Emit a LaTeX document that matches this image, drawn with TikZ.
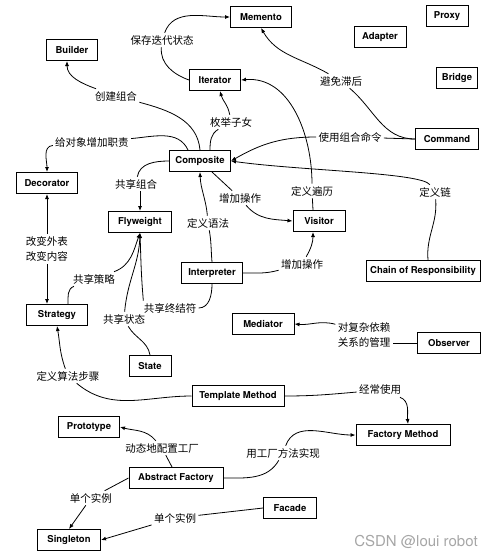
\documentclass[tikz,border=0pt]{standalone}
\usepackage{fontspec}
\setsansfont{TeX Gyre Heros}
\newfontfamily\cjkfont{Noto Sans CJK SC}
\usepackage{tikz}
\usetikzlibrary{arrows.meta}

\begin{document}
\begin{tikzpicture}[
				x=1pt, y=1pt,
				line width=0.8pt,
				>={Latex[length=5pt,width=4pt]},
				class node/.style={draw,line width=1pt,inner xsep=3pt,minimum height=21pt,minimum width=#1,font=\sffamily\bfseries\fontsize{9.5}{11}\selectfont},
				class node/.default=62pt,
				note/.style={inner sep=2pt,align=center,font=\cjkfont\fontsize{10.5}{15}\selectfont}
				]
				\useasboundingbox (0,0) rectangle (495,-558);
				\node[class node=51pt] (builder) at (72,-50) {Builder};
				\node[class node=61pt] (memento) at (261,-17) {Memento};
				\node[class node=42pt] (proxy) at (447,-16) {Proxy};
				\node[class node=52pt] (adapter) at (380,-37) {Adapter};
				\node[class node=41pt] (bridge) at (457,-78) {Bridge};
				\node[class node=51pt] (iterator) at (215,-80) {Iterator};
				\node[class node=63pt] (command) at (447,-139) {Command};
				\node[class node=61pt] (composite) at (200,-161) {Composite};
				\node[class node=61pt] (decorator) at (47,-183) {Decorator};
				\node[class node=63pt] (flyweight) at (140,-222) {Flyweight};
				\node[class node=52pt] (visitor) at (319,-221) {Visitor};
				\node[class node=61pt] (interpreter) at (212,-273) {Interpreter};
				\node[class node=114pt] (chain) at (423,-271) {Chain of Responsibility};
				\node[class node=61pt] (strategy) at (57,-315) {Strategy};
				\node[class node=62pt] (mediator) at (263,-324) {Mediator};
				\node[class node=63pt] (observer) at (449,-343) {Observer};
				\node[class node=42pt] (state) at (150,-366) {State};
				\node[class node=92pt] (template) at (238,-396) {Template Method};
				\node[class node=61pt] (prototype) at (89,-427) {Prototype};
				\node[class node=94pt] (factorymethod) at (403,-435) {Factory Method};
				\node[class node=94pt] (abstractfactory) at (176,-478) {Abstract Factory};
				\node[class node=53pt] (facade) at (290,-508) {Facade};
				\node[class node=63pt] (singleton) at (69,-540) {Singleton};

				\node[note] (savestate) at (162,-40) {保存迭代状态};
				\node[note] (build) at (116,-96) {创建组合};
				\node[note] (addresp) at (92,-142) {给对象增加职责};
				\node[note] (enumkids) at (231,-122) {枚举子女};
				\node[note] (avoidlag) at (341,-81) {避免滞后};
				\node[note] (usecmd) at (350,-137) {使用组合命令};
				\node[note] (sharecomp) at (136,-184) {共享组合};
				\node[note] (addop) at (240,-198) {增加操作};
				\node[note] (deftrav) at (312,-191) {定义遍历};
				\node[note] (defchain) at (435,-192) {定义链};
				\node[note] (defgram) at (208,-223) {定义语法};
				\node[note] (addop2) at (302,-264) {增加操作};
				\node[note] (changelook) at (47,-249) {改变外表\\改变内容};
				\node[note] (sharestrat) at (94,-279) {共享策略};
				\node[note] (shareterm) at (170,-308) {共享终结符};
				\node[note] (sharestate) at (124,-319) {共享状态};
				\node[note] (manage) at (364,-335) {对复杂依赖\\关系的管理};
				\node[note] (defsteps) at (68,-376) {定义算法步骤};
				\node[note] (oftenuse) at (380,-390) {经常使用};
				\node[note] (config) at (162,-448) {动态地配置工厂};
				\node[note] (usefm) at (283,-453) {用工厂方法实现};
				\node[note] (single1) at (91,-498) {单个实例};
				\node[note] (single2) at (175,-518) {单个实例};
				\node[text=black!35,font=\sffamily\fontsize{15}{17}\selectfont] (mark) at (416,-542) {CSDN @loui robot};

				\path (iterator.west) edge [out=160,in=-95] (savestate);
				\path (savestate) edge [->,out=70,in=180] (memento.west);
				\path (composite.north) edge [out=95,in=-15] (build);
				\path (build) edge [->,out=160,in=-90] ([xshift=-5pt]builder.south);
				\path ([xshift=-12pt]composite.north) edge [out=115,in=5] (addresp);
				\path (addresp) edge [->,out=185,in=90] (decorator.north);
				\path ([xshift=10pt]composite.north) edge [out=90,in=-150] (enumkids);
				\path (enumkids) edge [->,out=100,in=-75] ([xshift=5pt]iterator.south);
				\path (command.west) edge [out=180,in=-40] (avoidlag);
				\path (avoidlag) edge [->,out=150,in=-60] (memento.south);
				\path (command.west) edge (usecmd);
				\path (usecmd) edge [->,out=180,in=30] (composite.east);
				\path ([xshift=5pt]chain.north) edge [out=95,in=-85] (defchain);
				\path (defchain) edge [->,out=125,in=-8,out distance=15pt,in distance=70pt] (composite.east);
				\path ([xshift=-6pt]visitor.north) edge (deftrav);
				\path (deftrav) edge [->,out=90,in=5] (iterator.east);
				\path ([xshift=12pt]composite.south) edge (addop);
				\path (addop) edge [->,out=-50,in=175] (visitor.west);
				\path (interpreter.north) edge [out=95,in=-80] (defgram);
				\path (defgram) edge [->,out=95,in=-88] (composite.south);
				\path (interpreter.east) edge [out=0,in=-165] (addop2);
				\path (addop2) edge [->,out=60,in=-90] ([xshift=-6pt]visitor.south);
				\path (composite.west) edge [out=180,in=80] (sharecomp);
				\path (sharecomp.south -| flyweight.north) edge [->] (flyweight.north);
				\path (changelook) edge [->] (decorator.south);
				\path (changelook) edge [->] (changelook |- strategy.north);
				\path ([xshift=11pt]strategy.north) edge [out=90,in=-160] (sharestrat);
				\path (sharestrat) edge [->,out=20,in=-110] (flyweight.south);
				\path (state.north) edge [out=100,in=-60] (sharestate);
				\path (sharestate) edge [->,out=85,in=-92] (flyweight.south);
				\path (interpreter.south) edge [out=-90,in=0] (shareterm);
				\path ([xshift=2pt]shareterm.north west) edge [->,out=95,in=-88] (flyweight.south);
				\path (observer.west) edge (observer.west -| manage.east);
				\path ([yshift=-4pt]manage.north west) edge [->,out=165,in=-5] (mediator.east);
				\path (template.west) edge [out=180,in=-40] (defsteps);
				\path (defsteps) edge [->,out=110,in=-80] (strategy.south);
				\path (template.east) edge [out=0,in=185] (oftenuse);
				\path (oftenuse) edge [->,out=-20,in=95] ([xshift=5pt]factorymethod.north);
				\path ([xshift=-4pt]abstractfactory.north) edge (config);
				\path (config) edge [->,out=130,in=-15] (prototype.east);
				\path (abstractfactory.east) edge [out=0,in=-120] (usefm);
				\path (usefm) edge [->,out=70,in=180] (factorymethod.west);
				\path (abstractfactory.west) edge (single1);
				\path (single1) edge [->] (singleton.north);
				\path (facade.west) edge (single2);
				\path (single2) edge [->] (singleton.east);
\end{tikzpicture}
\end{document}
